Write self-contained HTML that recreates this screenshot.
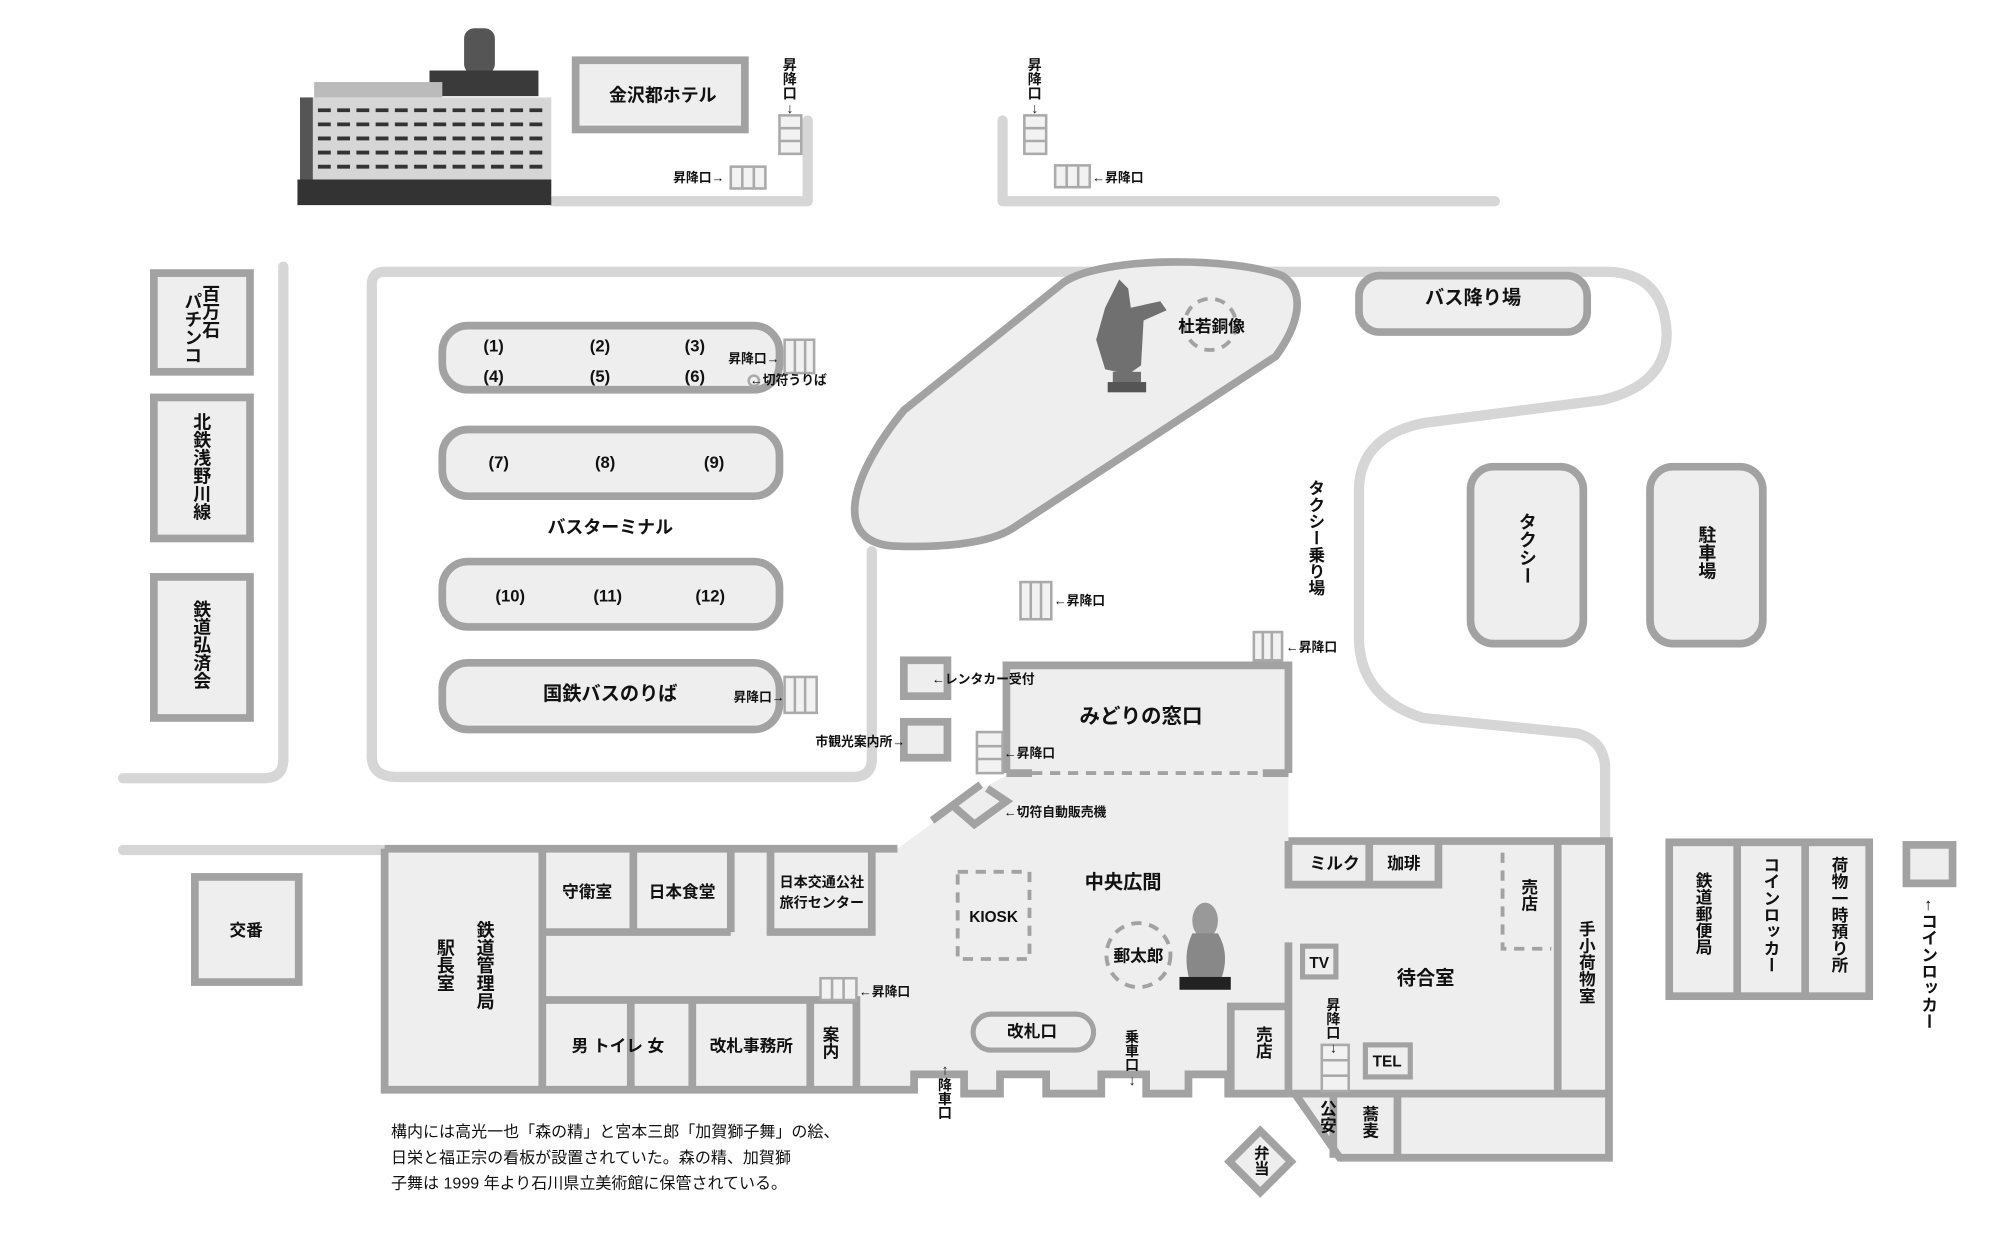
<!DOCTYPE html>
<html><head><meta charset="utf-8"><style>
html,body{margin:0;padding:0;background:#fff;}
svg{display:block;}
text{font-family:"Liberation Sans","Noto Sans CJK JP",sans-serif;font-weight:bold;fill:#111;}
.v{writing-mode:vertical-rl;}
.u{writing-mode:vertical-rl;text-orientation:upright;}
</style></head><body>
<svg width="2000" height="1234" viewBox="0 0 1560 962.5" preserveAspectRatio="none" xmlns="http://www.w3.org/2000/svg">
<rect x="0" y="0" width="1560" height="962.5" fill="#fff"/>
<g fill="none" stroke="#d6d6d6" stroke-width="8" stroke-linecap="round" stroke-linejoin="round">
<path d="M432 157 H630 V94"/>
<path d="M782 94 V157 H1166"/>
<path d="M221 208 V592 Q221 607 206 607 H96"/>
<path d="M96 663 H298"/>
<path d="M290 590 V222 Q290 212 300 212 H1255 Q1298 214 1300 260 Q1300 300 1250 312 L1110 330 Q1062 340 1060 380 V500 Q1062 545 1110 560 L1230 572 Q1252 578 1252 600 V652"/>
<path d="M290 590 Q290 606 310 606 H665 Q680 606 680 592 V430"/>
</g>
<!-- hotel photo -->
<rect x="362" y="22" width="24" height="36" rx="8" fill="#555"/>
<rect x="335" y="55" width="85" height="20" fill="#3a3a3a"/>
<rect x="245" y="64" width="100" height="12" fill="#bbb"/>
<rect x="234" y="76" width="196" height="72" fill="#d6d6d6"/>
<rect x="234" y="76" width="10" height="72" fill="#555"/>
<g stroke="#333" stroke-width="3">
<line x1="248" y1="86" x2="426" y2="86" stroke-dasharray="10 5"/>
<line x1="248" y1="97" x2="426" y2="97" stroke-dasharray="10 5"/>
<line x1="248" y1="108" x2="426" y2="108" stroke-dasharray="10 5"/>
<line x1="248" y1="119" x2="426" y2="119" stroke-dasharray="10 5"/>
<line x1="248" y1="130" x2="426" y2="130" stroke-dasharray="10 5"/>
</g>
<rect x="232" y="140" width="198" height="20" fill="#333"/>
<!-- boxes -->
<g fill="#eeeeee" stroke="#a2a2a2" stroke-width="6">
<rect x="449" y="47" width="132" height="54"/>
<rect x="120" y="213" width="75" height="77"/>
<rect x="120" y="310" width="75" height="110"/>
<rect x="120" y="450" width="75" height="110"/>
<rect x="152" y="684" width="81" height="82"/>
<rect x="1060" y="215" width="178" height="44" rx="16"/>
<rect x="345" y="254" width="263" height="50" rx="20"/>
<rect x="345" y="335" width="263" height="52" rx="20"/>
<rect x="345" y="438" width="263" height="51" rx="20"/>
<rect x="345" y="517" width="263" height="52" rx="20"/>
<rect x="1147" y="364" width="88" height="138" rx="18"/>
<rect x="1287" y="364" width="88" height="138" rx="18"/>
<path d="M700 426 C650 425 660 375 705 320 L830 220 C860 200 960 200 1000 215 C1020 228 1012 255 995 278 L790 412 C770 425 730 427 700 426 Z"/>
<rect x="705" y="515" width="34" height="28"/>
<rect x="705" y="563" width="34" height="28"/>
<rect x="1302" y="657" width="156" height="120"/>
<rect x="1487" y="659" width="36" height="30"/>
</g>
<g stroke="#a2a2a2" stroke-width="6">
<line x1="1355" y1="657" x2="1355" y2="777"/>
<line x1="1408" y1="657" x2="1408" y2="777"/>
</g>
<!-- station floor -->
<path d="M300 662 H700 L760 618 L785 605 H1005 V656 H1255 V903 H1045 L1010 853 H958 V838 H927 V853 H894 V838 H859 V853 H816 V838 H780 V853 H752 V838 H713 V850 H300 Z" fill="#eeeeee"/>
<rect x="785" y="519" width="220" height="86" fill="#eeeeee"/>
<g fill="none" stroke="#a2a2a2" stroke-width="6">
<path d="M1005 603 V519 H785 V603"/>
<path d="M785 603 H805 M985 603 H1005"/>
<path d="M300 662 H700 M300 662 V850 H713 V838 H752 V853 H780 V838 H816 V853 H859 V838 H894 V853 H927 V838 H958 V853 H1005"/>
<path d="M423 662 V850 M423 727 H570 M494 662 V727 M570 662 V727"/>
<path d="M601 662 V727 H680 V662"/>
<path d="M423 780 H668 V850 M540 780 V850 M632 780 V850 M492 780 V850"/>
<path d="M960 850 V785 H1005"/>
<path d="M1005 735 V853 M1005 656 V690 H1122 V656 M1068 656 V690"/>
<path d="M1005 656 H1255 V903 H1045 L1010 853 M1005 853 H1255 M1215 656 V853 M1040 853 V903 M1090 853 V903"/>
<path d="M727 640 L765 612 M745 630 L760 643 L785 625 L770 615"/>
</g>
<g fill="none" stroke="#a2a2a2" stroke-width="3" stroke-dasharray="8 6">
<line x1="805" y1="603" x2="985" y2="603"/>
<rect x="747" y="680" width="56" height="68"/>
<path d="M1172 665 V740 H1210"/>
<circle cx="888" cy="745" r="25"/>
<circle cx="944" cy="253" r="20"/>
</g>
<g fill="#eeeeee" stroke="#a2a2a2" stroke-width="4">
<rect x="759" y="791" width="94" height="28" rx="14"/>
<rect x="1016" y="738" width="26" height="24"/>
<rect x="1065" y="815" width="35" height="25"/>
<path d="M983 882 L1007 906 L983 930 L959 906 Z" stroke-width="6"/>
</g>
<!-- stairs -->
<g fill="#f2f2f2" stroke="#aaa" stroke-width="2">
<rect x="608" y="90" width="17" height="30"/><path d="M608 100 H625 M608 110 H625"/>
<rect x="570" y="130" width="27" height="17"/><path d="M579 130 V147 M588 130 V147"/>
<rect x="799" y="90" width="17" height="30"/><path d="M799 100 H816 M799 110 H816"/>
<rect x="823" y="129" width="27" height="17"/><path d="M832 129 V146 M841 129 V146"/>
<rect x="612" y="265" width="23" height="26"/><path d="M620 265 V291 M628 265 V291"/>
<rect x="612" y="528" width="25" height="28"/><path d="M620 528 V556 M628 528 V556"/>
<rect x="796" y="454" width="24" height="29"/><path d="M804 454 V483 M812 454 V483"/>
<rect x="978" y="493" width="22" height="22"/><path d="M985 493 V515 M992 493 V515"/>
<rect x="762" y="571" width="20" height="32"/><path d="M762 582 H782 M762 592 H782"/>
<rect x="640" y="763" width="28" height="17"/><path d="M649 763 V780 M658 763 V780"/>
<rect x="1031" y="815" width="21" height="36"/><path d="M1031 827 H1052 M1031 839 H1052"/>
<circle cx="588" cy="297" r="4"/>
</g>
<!-- statues -->
<g fill="#707070">
<path d="M873 218 L880 225 L882 240 L905 235 L910 242 L892 250 L890 285 L880 292 L862 288 L855 265 L862 240 Z"/>
<rect x="868" y="290" width="22" height="10"/>
<rect x="864" y="298" width="30" height="8" fill="#555"/>
<ellipse cx="940" cy="718" rx="10" ry="14" fill="#999"/>
<path d="M930 728 Q922 745 928 765 H952 Q960 745 950 728 Z" fill="#888"/>
<rect x="920" y="762" width="40" height="10" fill="#222"/>
</g>
<!-- labels -->
<g font-size="14">
<text x="517" y="79" text-anchor="middle">金沢都ホテル</text>
<text x="476" y="416" text-anchor="middle">バスターミナル</text>
<text x="476" y="546" text-anchor="middle" font-size="15">国鉄バスのりば</text>
<text x="1149" y="237" text-anchor="middle" font-size="15">バス降り場</text>
<text x="945" y="259" text-anchor="middle" font-size="13">杜若銅像</text>
<text x="890" y="564" text-anchor="middle" font-size="16">みどりの窓口</text>
<text x="876" y="693" text-anchor="middle" font-size="15">中央広間</text>
<text x="888" y="750" text-anchor="middle" font-size="13">郵太郎</text>
<text x="775" y="719" text-anchor="middle" font-size="12" font-weight="normal">KIOSK</text>
<text x="805" y="809" text-anchor="middle" font-size="13">改札口</text>
<text x="192" y="730" text-anchor="middle" font-size="13">交番</text>
<text x="458" y="700" text-anchor="middle" font-size="13">守衛室</text>
<text x="532" y="700" text-anchor="middle" font-size="13">日本食堂</text>
<text x="641" y="692" text-anchor="middle" font-size="11">日本交通公社</text>
<text x="641" y="708" text-anchor="middle" font-size="11">旅行センター</text>
<text x="482" y="820" text-anchor="middle" font-size="13">男 トイレ 女</text>
<text x="586" y="820" text-anchor="middle" font-size="13">改札事務所</text>
<text x="1041" y="678" text-anchor="middle" font-size="13">ミルク</text>
<text x="1095" y="678" text-anchor="middle" font-size="13">珈琲</text>
<text x="1112" y="768" text-anchor="middle" font-size="15">待合室</text>
<text x="1029" y="755" text-anchor="middle" font-size="12">TV</text>
<text x="1082" y="832" text-anchor="middle" font-size="12">TEL</text>
<g font-size="13" text-anchor="middle">
<text x="385" y="274">(1)</text><text x="468" y="274">(2)</text><text x="542" y="274">(3)</text>
<text x="385" y="298">(4)</text><text x="468" y="298">(5)</text><text x="542" y="298">(6)</text>
<text x="389" y="365">(7)</text><text x="472" y="365">(8)</text><text x="557" y="365">(9)</text>
<text x="398" y="469">(10)</text><text x="474" y="469">(11)</text><text x="554" y="469">(12)</text>
</g>
</g>
<g font-size="10">
<text x="525" y="142">昇降口→</text>
<text x="852" y="142">←昇降口</text>
<text x="568" y="283">昇降口→</text>
<text x="585" y="300">←切符うりば</text>
<text x="572" y="547">昇降口→</text>
<text x="822" y="472">←昇降口</text>
<text x="1003" y="508">←昇降口</text>
<text x="727" y="533">←レンタカー受付</text>
<text x="636" y="582">市観光案内所→</text>
<text x="783" y="591">←昇降口</text>
<text x="783" y="637">←切符自動販売機</text>
<text x="670" y="777">←昇降口</text>
</g>
<g font-size="11">
<text x="616" y="45" class="u">昇降口↓</text>
<text x="807" y="45" class="u">昇降口↓</text>
<text x="1040" y="778" class="u">昇降口↓</text>
<text x="737" y="828" class="u">↑降車口</text>
<text x="883" y="803" class="u">乗車口↓</text>
</g>
<g font-size="14">
<text x="164" y="222" class="v">百万石</text>
<text x="150" y="228" class="v">パチンコ</text>
<text x="157" y="322" class="v">北鉄浅野川線</text>
<text x="157" y="468" class="v">鉄道弘済会</text>
<text x="1026" y="374" class="v" font-size="13">タクシー乗り場</text>
<text x="1191" y="400" class="v">タクシー</text>
<text x="1331" y="410" class="v">駐車場</text>
<text x="347" y="732" class="v">駅長室</text>
<text x="378" y="718" class="v">鉄道管理局</text>
<text x="647" y="800" class="v" font-size="13">案内</text>
<text x="985" y="800" class="v" font-size="13">売店</text>
<text x="1192" y="685" class="v" font-size="13">売店</text>
<text x="1237" y="718" class="v" font-size="13">手小荷物室</text>
<text x="1035" y="858" class="v" font-size="13">公安</text>
<text x="1068" y="862" class="v" font-size="13">蕎麦</text>
<text x="983" y="893" class="v" font-size="12">弁当</text>
<text x="1328" y="680" class="v" font-size="13">鉄道郵便局</text>
<text x="1381" y="668" class="v" font-size="13">コインロッカー</text>
<text x="1434" y="668" class="v" font-size="13">荷物一時預り所</text>
<text x="1504" y="698" class="u" font-size="13">↑</text>
<text x="1504" y="712" class="v" font-size="13">コインロッカー</text>
</g>
<g font-size="12.5">
<text x="305" y="887" style="font-weight:normal">構内には高光一也「森の精」と宮本三郎「加賀獅子舞」の絵、</text>
<text x="305" y="907" style="font-weight:normal">日栄と福正宗の看板が設置されていた。森の精、加賀獅</text>
<text x="305" y="927" style="font-weight:normal">子舞は 1999 年より石川県立美術館に保管されている。</text>
</g>
</svg>
</body></html>
